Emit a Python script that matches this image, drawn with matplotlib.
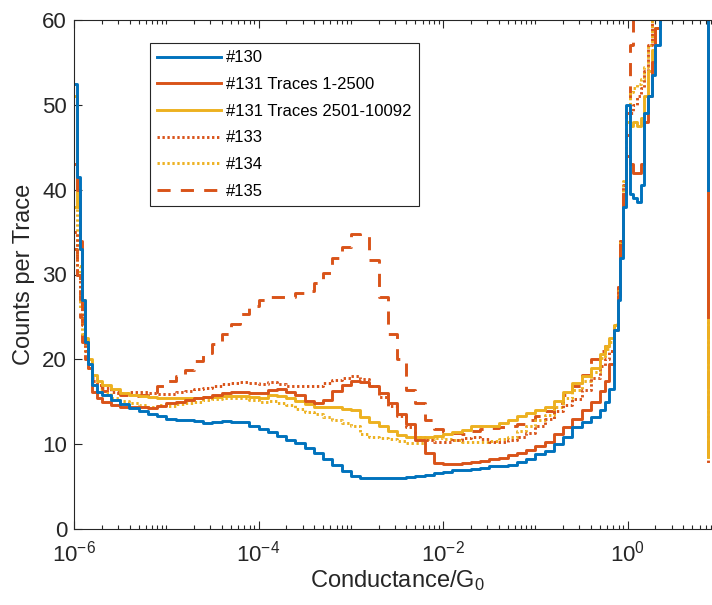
import numpy as np
import matplotlib
matplotlib.use('Agg')
import matplotlib.pyplot as plt
from matplotlib.ticker import FixedLocator, NullFormatter

plt.rcParams['font.family'] = ['Liberation Sans', 'DejaVu Sans']
plt.rcParams['mathtext.fontset'] = 'custom'
plt.rcParams['mathtext.rm'] = 'Liberation Sans'
plt.rcParams['mathtext.it'] = 'Liberation Sans'

# log10 of conductance at the left edge of every histogram bin
log_g = [-6.00, -5.97, -5.94, -5.91, -5.88, -5.85, -5.80, -5.75, -5.70,
         -5.60, -5.50, -5.40, -5.30, -5.20, -5.10, -5.00, -4.90, -4.80, -4.70,
         -4.60, -4.50, -4.40, -4.30, -4.20, -4.10, -4.00, -3.90, -3.80, -3.70,
         -3.60, -3.50, -3.40, -3.30, -3.20, -3.10, -3.00, -2.90, -2.80, -2.70,
         -2.60, -2.50, -2.40, -2.30, -2.20, -2.10, -2.00, -1.90, -1.80, -1.70,
         -1.60, -1.50, -1.40, -1.30, -1.20, -1.10, -1.00, -0.90, -0.80, -0.70,
         -0.60, -0.50, -0.40, -0.30, -0.25, -0.20, -0.15, -0.11, -0.08, -0.05,
         -0.02, 0.02, 0.06, 0.10, 0.14, 0.18, 0.22, 0.26, 0.30, 0.35, 0.40, 0.866]

s130 = [52.5, 41.5, 33.0, 27.0, 22.0, 19.5, 17.0, 16.2, 15.8,
        15.2, 14.7, 14.3, 13.9, 13.6, 13.3, 13.0, 12.9, 12.8, 12.7,
        12.5, 12.6, 12.7, 12.6, 12.6, 12.2, 11.8, 11.4, 11.0, 10.5,
        10.1, 9.6, 9.0, 8.3, 7.5, 6.8, 6.2, 6.0, 6.0, 6.0,
        6.0, 6.0, 6.1, 6.2, 6.4, 6.6, 6.7, 6.9, 7.0, 7.1,
        7.2, 7.4, 7.4, 7.5, 7.9, 8.3, 8.8, 9.2, 10.0, 10.8,
        12.0, 12.6, 13.2, 14.0, 15.0, 16.5, 23.5, 27.0, 32.0, 38.0,
        50.0, 39.5, 39.0, 38.5, 40.5, 49.0, 51.0, 53.5, 57.0, 66.0, 80.0, 40.0]

s131a = [43.0, 40.0, 34.0, 26.0, 22.0, 19.0, 16.2, 15.5, 15.0,
         14.6, 14.4, 14.4, 14.4, 14.3, 14.5, 14.8, 15.0, 15.2, 15.4,
         15.6, 15.8, 16.0, 16.2, 16.1, 16.0, 16.0, 16.4, 16.5, 16.2,
         15.8, 15.1, 14.8, 15.2, 16.3, 17.0, 17.5, 17.3, 16.8, 16.0,
         14.8, 13.6, 12.4, 10.5, 9.0, 7.8, 7.7, 7.7, 7.8, 7.9,
         8.0, 8.2, 8.4, 8.7, 9.0, 9.3, 9.8, 10.2, 11.2, 12.0,
         13.0, 14.0, 15.0, 16.3, 17.5, 19.5, 23.5, 27.5, 33.5, 39.5,
         44.0, 43.0, 42.0, 42.0, 43.0, 48.0, 51.0, 55.0, 59.0, 66.0, 80.0, 25.0]

s131b = [51.0, 38.0, 33.0, 27.0, 22.5, 20.0, 18.2, 17.5, 17.0,
         16.5, 16.0, 15.8, 15.7, 15.6, 15.5, 15.4, 15.4, 15.4, 15.5,
         15.6, 15.6, 15.7, 15.7, 15.7, 15.6, 15.4, 15.8, 15.7, 15.4,
         15.1, 14.7, 14.4, 14.4, 14.4, 14.2, 14.0, 13.2, 12.6, 12.1,
         11.6, 11.1, 10.9, 10.9, 10.9, 11.0, 11.2, 11.4, 11.7, 12.1,
         12.2, 12.2, 12.5, 12.8, 13.3, 13.7, 14.0, 14.4, 15.1, 16.2,
         17.2, 18.0, 19.0, 20.6, 21.6, 22.5, 24.0, 27.5, 33.0, 39.0,
         44.0, 47.5, 48.0, 47.5, 48.5, 51.0, 54.0, 56.5, 59.0, 65.0, 80.0, 8.5]

s133 = [35.0, 30.0, 27.0, 24.0, 21.0, 19.5, 17.8, 17.0, 16.6,
        16.2, 16.0, 16.1, 16.1, 16.0, 15.9, 15.9, 16.1, 16.3, 16.5,
        16.6, 16.9, 17.1, 17.2, 17.3, 17.2, 17.1, 17.3, 17.1, 16.9,
        16.8, 16.8, 16.9, 17.2, 17.6, 17.8, 18.0, 17.7, 16.8, 15.6,
        14.5, 13.3, 12.0, 10.9, 10.5, 10.2, 10.3, 10.5, 10.7, 10.8,
        10.6, 10.2, 10.3, 10.5, 10.9, 11.3, 12.2, 13.0, 13.9, 14.6,
        15.3, 16.4, 17.8, 19.2, 20.0, 21.0, 24.0, 28.5, 34.0, 40.5,
        46.5, 49.0, 50.0, 51.0, 52.0, 54.0, 57.0, 62.0, 70.0, 80.0, 90.0, 7.7]

s134 = [38.0, 31.0, 26.0, 23.0, 21.0, 19.0, 17.2, 16.5, 16.0,
        15.5, 15.1, 14.8, 14.6, 14.4, 14.6, 14.5, 14.7, 14.9, 15.0,
        15.2, 15.3, 15.4, 15.5, 15.4, 15.2, 15.0, 15.1, 14.9, 14.6,
        14.2, 13.8, 13.5, 13.2, 12.9, 12.5, 12.1, 11.2, 10.8, 10.7,
        10.6, 10.4, 10.1, 10.1, 10.6, 10.7, 10.6, 10.5, 10.3, 10.2,
        10.2, 10.4, 10.6, 10.9, 11.5, 12.1, 12.8, 13.4, 14.4, 15.5,
        16.4, 17.4, 18.5, 20.2, 21.2, 22.0, 24.2, 28.0, 34.0, 41.0,
        48.0, 51.5, 52.0, 52.5, 53.0, 54.5, 57.0, 60.5, 66.0, 75.0, 90.0, 8.5]

s135 = [33.0, 30.0, 25.0, 22.0, 20.0, 19.0, 17.5, 16.8, 16.3,
        16.0, 15.8, 15.7, 15.8, 16.2, 16.8, 17.4, 18.0, 18.8, 19.8,
        20.7, 21.8, 23.0, 24.2, 25.3, 26.3, 27.0, 27.4, 27.3, 27.3,
        27.8, 28.0, 29.0, 30.2, 32.0, 33.3, 34.8, 34.5, 31.7, 27.4,
        23.0, 20.0, 16.4, 14.8, 12.9, 11.8, 11.4, 11.3, 11.2, 11.5,
        11.8, 11.9, 12.0, 12.1, 12.4, 12.8, 13.3, 13.9, 14.8, 15.8,
        16.8, 18.2, 20.0, 21.0, 21.6, 22.3, 24.0, 28.5, 34.0, 40.0,
        49.0, 57.0, 62.0, 70.0, 80.0, 90.0, 100.0, 110.0, 120.0, 130.0, 140.0, 8.0]

labels = ['#130', '#131 Traces 1-2500', '#131 Traces 2501-10092',
          '#133', '#134', '#135']

blue = '#0072BD'
red = '#D95319'
yellow = '#EDB120'


def draw():
    fig = plt.figure(figsize=(7.12, 6.05), dpi=100)
    ax = fig.add_axes([74 / 712, 76 / 605, 646 / 712, 509 / 605])
    g = 10.0 ** np.array(log_g)

    styles = [
        (s130, blue, '-'),
        (s131a, red, '-'),
        (s131b, yellow, '-'),
        (s133, red, (0, (0.8, 0.9))),
        (s134, yellow, (0, (0.8, 0.9))),
        (s135, red, (0, (4.5, 3.5))),
    ]
    handles = [None] * len(styles)
    # draw last series first so #130 ends up on top
    for i in reversed(range(len(styles))):
        vals, col, ls = styles[i]
        line, = ax.step(g, vals, where='post', color=col, ls=ls, lw=2.1,
                        label=labels[i])
        handles[i] = line

    ax.set_xscale('log')
    ax.set_xlim(1e-6, 10)
    ax.set_ylim(0, 60)

    majors = [1e-6, 1e-4, 1e-2, 1e0]
    ax.xaxis.set_major_locator(FixedLocator(majors))
    ax.set_xticklabels(['$10^{-6}$', '$10^{-4}$', '$10^{-2}$', '$10^{0}$'])
    minors = [k * 10.0 ** e for e in range(-6, 1) for k in range(1, 10)
              if not (k == 1 and 10.0 ** e in majors)]
    ax.xaxis.set_minor_locator(FixedLocator(minors))
    ax.xaxis.set_minor_formatter(NullFormatter())
    ax.set_yticks([0, 10, 20, 30, 40, 50, 60])

    ax.tick_params(which='both', direction='in', top=True, right=True,
                   colors='0.15', labelsize=16, width=0.8)
    ax.tick_params(which='major', length=6)
    ax.tick_params(which='minor', length=3)
    ax.tick_params(axis='x', which='major', pad=8.5)
    ax.tick_params(axis='y', which='major', pad=5)
    for sp in ax.spines.values():
        sp.set_color('0.15')
        sp.set_linewidth(0.8)

    ax.set_xlabel('Conductance/G$_0$', fontsize=17, color='0.15', labelpad=1)
    ax.set_ylabel('Counts per Trace', fontsize=17, color='0.15', labelpad=5)

    leg = ax.legend(handles=handles, loc='upper left',
                    bbox_to_anchor=(0.1176, 0.955), borderaxespad=0,
                    fontsize=12, fancybox=False, framealpha=1,
                    edgecolor='0.15', handlelength=3.8, handletextpad=0.3,
                    labelspacing=0.7, borderpad=0.45)
    leg.get_frame().set_linewidth(0.8)

    fig.savefig('out.png', dpi=100)


draw()
